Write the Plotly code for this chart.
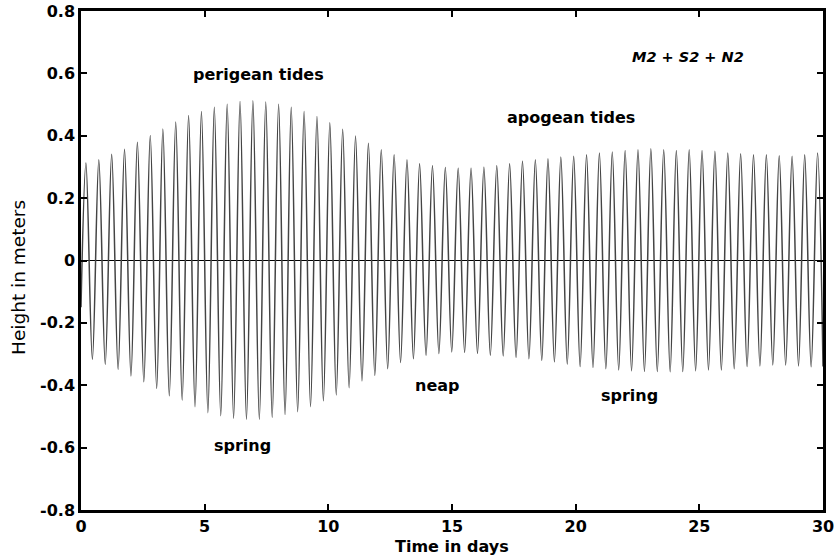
import plotly.graph_objects as go

# ---- data ----
start_time = [0.0]
start_height = [-0.15]

peak_times = [0.20, 0.72, 1.24, 1.76, 2.28, 2.80, 3.31, 3.83, 4.35, 4.87,
              5.39, 5.91, 6.43, 6.95, 7.47, 7.99, 8.50, 9.02, 9.54, 10.06,
              10.58, 11.10, 11.62, 12.14, 12.66, 13.18, 13.69, 14.21, 14.73, 15.25,
              15.77, 16.29, 16.81, 17.33, 17.85, 18.37, 18.88, 19.40, 19.92, 20.44,
              20.96, 21.48, 22.00, 22.52, 23.04, 23.56, 24.07, 24.59, 25.11, 25.63,
              26.15, 26.67, 27.19, 27.71, 28.23, 28.75, 29.26, 29.78]
peak_heights = [0.313, 0.323, 0.341, 0.357, 0.379, 0.401, 0.422, 0.444, 0.465, 0.478,
                0.491, 0.501, 0.510, 0.512, 0.508, 0.501, 0.491, 0.478, 0.462,
                0.442, 0.421, 0.399, 0.376, 0.355, 0.339, 0.323, 0.310, 0.304, 0.298,
                0.296, 0.296, 0.299, 0.304, 0.310, 0.318, 0.323, 0.326, 0.332, 0.334,
                0.339, 0.345, 0.348, 0.353, 0.355, 0.358, 0.355, 0.353, 0.355, 0.353,
                0.350, 0.345, 0.342, 0.339, 0.339, 0.336, 0.334, 0.339, 0.345]

trough_times = [0.46, 0.98, 1.50, 2.02, 2.54, 3.06, 3.57, 4.09, 4.61, 5.13,
                5.65, 6.17, 6.69, 7.21, 7.73, 8.25, 8.76, 9.28, 9.80, 10.32,
                10.84, 11.36, 11.88, 12.40, 12.92, 13.44, 13.95, 14.47, 14.99, 15.51,
                16.03, 16.55, 17.07, 17.59, 18.11, 18.63, 19.14, 19.66, 20.18, 20.70,
                21.22, 21.74, 22.26, 22.78, 23.30, 23.82, 24.33, 24.85, 25.37, 25.89,
                26.41, 26.93, 27.45, 27.97, 28.49, 29.01, 29.52, 30.00]
trough_heights = [-0.317, -0.333, -0.349, -0.370, -0.389, -0.410, -0.434, -0.448, -0.469, -0.488,
                  -0.498, -0.506, -0.509, -0.509, -0.503, -0.494, -0.485, -0.469, -0.450,
                  -0.431, -0.408, -0.386, -0.368, -0.347, -0.327, -0.315, -0.304, -0.298, -0.293,
                  -0.295, -0.298, -0.304, -0.306, -0.311, -0.315, -0.320, -0.325,
                  -0.332, -0.340, -0.343, -0.347, -0.351, -0.354, -0.356, -0.356, -0.357, -0.356,
                  -0.354, -0.351, -0.351, -0.347, -0.340, -0.338, -0.335, -0.335, -0.338, -0.341,
                  -0.340]

x_tick_vals = [0, 5, 10, 15, 20, 25, 30]
x_tick_text = ["0", "5", "10", "15", "20", "25", "30"]
y_tick_vals = [-0.8, -0.6, -0.4, -0.2, 0, 0.2, 0.4, 0.6, 0.8]
y_tick_text = ["-0.8", "-0.6", "-0.4", "-0.2", "0", "0.2", "0.4", "0.6", "0.8"]

x_title = "Time in days"
y_title = "Height in meters"

labels = ["perigean tides", "apogean tides", "M2 + S2 + N2", "neap", "spring", "spring"]
label_x = [7.16, 19.81, 24.55, 14.41, 6.51, 22.16]
label_y = [0.595, 0.457, 0.654, -0.402, -0.594, -0.434]
label_italic = [False, False, True, False, False, False]

# ---- build the curve through the extremes ----
pts = list(zip(start_time, start_height)) + list(zip(peak_times, peak_heights)) + \
      list(zip(trough_times, trough_heights))
pts.sort(key=lambda p: p[0])
tt = [p[0] for p in pts]
hh = [p[1] for p in pts]

FONT = "DejaVu Sans"
W, H = 839, 558
ML, MR, MT, MB = 81, 16, 11, 48
PW, PH = W - ML - MR, H - MT - MB

fig = go.Figure()
fig.add_trace(go.Scatter(x=tt, y=hh, mode="lines",
                         line=dict(color="#444444", width=1.5, shape="spline", smoothing=1.0),
                         hoverinfo="skip", showlegend=False))

for txt, ax_, ay_, it in zip(labels, label_x, label_y, label_italic):
    fig.add_annotation(x=ax_, y=ay_, text=txt, showarrow=False, xref="x", yref="y",
                       font=dict(family=FONT, size=14.5 if it else 16, color="black",
                                 weight="bold", style="italic" if it else "normal"))

# axis titles placed as paper annotations
fig.add_annotation(x=0.5, y=-(546 - (H - MB)) / PH, xref="paper", yref="paper",
                   text=x_title, showarrow=False, xanchor="center", yanchor="middle",
                   font=dict(family=FONT, size=16, color="black", weight="bold"))
fig.add_annotation(x=(18 - ML) / PW, y=(H - MB - 278) / PH, xref="paper", yref="paper",
                   text=y_title, showarrow=False, textangle=-90,
                   xanchor="center", yanchor="middle",
                   font=dict(family=FONT, size=18.5, color="black"))

axis_common = dict(showline=True, linewidth=2.5, linecolor="black", mirror="ticks",
                   ticks="inside", ticklen=6, tickwidth=2, tickcolor="black",
                   showgrid=False, automargin=False,
                   tickfont=dict(family=FONT, size=16, color="black", weight="bold"))

fig.update_xaxes(range=[0, 30], tickmode="array", tickvals=x_tick_vals, ticktext=x_tick_text,
                 zeroline=False, **axis_common)
fig.update_yaxes(range=[-0.8, 0.8], tickmode="array", tickvals=y_tick_vals, ticktext=y_tick_text,
                 zeroline=True, zerolinecolor="black", zerolinewidth=1, **axis_common)

fig.update_layout(width=W, height=H, margin=dict(l=ML, r=MR, t=MT, b=MB),
                  plot_bgcolor="white", paper_bgcolor="white")

fig.write_html("out.html", config=dict(displayModeBar=False),
               post_script="document.body.style.margin='0';document.body.style.overflow='hidden';")
